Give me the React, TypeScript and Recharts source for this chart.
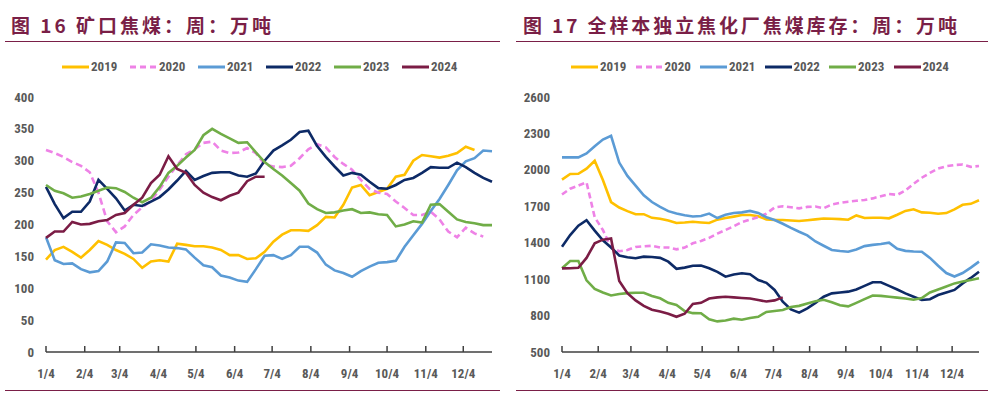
import React from 'react';
import { LineChart, Line, XAxis, YAxis } from 'recharts';

const years = ['2019', '2020', '2021', '2022', '2023', '2024'];
const colors = ['#FFC000', '#EE82E6', '#5B9BD5', '#0D2A66', '#70AD47', '#7B1C45'];
const monthTickDays = [0, 31, 59, 90, 120, 151, 181, 212, 243, 273, 304, 334];
const monthLabels = ['1/4', '2/4', '3/4', '4/4', '5/4', '6/4', '7/4', '8/4', '9/4', '10/4', '11/4', '12/4'];
const weekDays = [0, 7, 14, 21, 28, 35, 42, 49, 56, 63, 70, 77, 84, 91, 98, 105, 112, 119, 126, 133, 140, 147, 154, 161, 168, 175, 182, 189, 196, 203, 210, 217, 224, 231, 238, 245, 252, 259, 266, 273, 280, 287, 294, 301, 308, 315, 322, 329, 336, 343, 350, 357];

const leftTitle = '图 16 矿口焦煤：周：万吨';
const rightTitle = '图 17 全样本独立焦化厂焦煤库存：周：万吨';
const leftYTicks = [0, 50, 100, 150, 200, 250, 300, 350, 400];
const rightYTicks = [500, 800, 1100, 1400, 1700, 2000, 2300, 2600];

// 矿口焦煤 (万吨)
const mine2019 = [145,160,165,157,148,160,174,168,160,154,146,132,142,144,142,170,168,166,166,164,160,152,152,146,147,157,173,184,191,191,190,199,212,211,231,258,262,246,251,256,275,278,300,309,307,305,308,312,322,317];
const mine2020 = [317,312,306,298,292,282,250,205,188,197,215,227,237,255,275,293,310,318,328,330,316,312,313,320,312,294,291,290,292,304,318,326,321,306,295,286,270,256,250,248,236,226,215,215,220,208,189,180,195,186,181];
const mine2021 = [180,144,138,139,130,125,127,142,172,171,155,156,169,167,164,163,161,148,136,133,120,117,112,110,130,151,152,146,152,165,165,156,137,128,124,118,127,134,140,141,143,165,183,201,221,240,262,285,299,304,316,315];
const mine2022 = [259,232,210,220,220,236,270,256,241,222,231,229,236,243,255,269,284,270,276,281,282,282,277,275,280,300,316,324,333,345,347,323,306,291,277,281,278,267,257,256,262,270,273,281,290,289,289,297,290,281,273,267];
const mine2023 = [262,253,249,242,244,248,253,258,257,251,242,235,242,259,281,292,305,317,340,350,342,335,328,329,313,298,287,277,265,253,233,224,218,219,222,224,218,219,216,215,197,200,205,203,231,232,220,208,204,202,199,199];
const mine2024 = [179,189,189,204,200,201,205,207,215,218,231,242,265,278,307,287,281,262,250,243,238,245,250,268,275,275];

// 全样本独立焦化厂焦煤库存 (万吨)
const coke2019 = [1920,1966,1968,2010,2075,1916,1735,1690,1660,1635,1635,1605,1598,1583,1562,1566,1573,1567,1562,1590,1603,1615,1628,1628,1618,1592,1587,1587,1583,1579,1585,1592,1600,1597,1594,1589,1625,1603,1606,1606,1601,1630,1662,1675,1650,1647,1638,1644,1675,1712,1720,1750];
const coke2020 = [1797,1845,1870,1897,1610,1505,1360,1330,1340,1365,1370,1375,1360,1360,1345,1360,1395,1415,1440,1475,1505,1535,1570,1590,1610,1640,1690,1700,1692,1683,1695,1698,1684,1715,1728,1738,1745,1752,1765,1783,1801,1794,1830,1885,1935,1975,2010,2030,2040,2044,2025,2032];
const coke2021 = [2103,2103,2103,2135,2195,2250,2280,2060,1950,1870,1790,1735,1695,1660,1640,1626,1616,1620,1640,1603,1630,1645,1650,1662,1645,1610,1587,1556,1522,1490,1460,1410,1375,1340,1332,1326,1345,1372,1382,1389,1400,1350,1333,1328,1326,1275,1210,1150,1122,1150,1195,1244];
const coke2022 = [1367,1463,1540,1585,1500,1420,1360,1295,1280,1272,1285,1282,1275,1244,1185,1195,1210,1212,1190,1160,1120,1138,1148,1140,1093,1070,1011,914,850,824,860,905,955,983,990,997,1015,1045,1074,1074,1045,1015,983,955,928,935,969,990,1011,1065,1110,1161];
const coke2023 = [1189,1250,1250,1090,1020,990,966,978,985,988,988,962,942,905,887,838,820,819,770,752,760,775,766,780,790,830,838,846,870,880,900,918,930,910,885,876,905,935,965,962,955,948,940,930,945,990,1015,1040,1065,1080,1093,1107];
const coke2024 = [1189,1190,1194,1275,1395,1425,1435,1085,985,925,880,848,833,815,790,815,895,905,940,950,955,950,945,940,928,916,925,950];

const FONT = "'Liberation Sans Narrow', 'Roboto Condensed', Roboto, sans-serif";
const TITLE_FONT = "'Noto Sans CJK SC', sans-serif";
const MAROON = '#7A1F47';
const GREY = '#595959';

function buildRows(series: number[][]) {
  return weekDays.map((d, i) => {
    const row: Record<string, number | null> = { day: d };
    years.forEach((y, k) => {
      const v = series[k][i];
      row[y] = v === undefined ? null : v;
    });
    return row;
  });
}

const rowsLeft = buildRows([mine2019, mine2020, mine2021, mine2022, mine2023, mine2024]);
const rowsRight = buildRows([coke2019, coke2020, coke2021, coke2022, coke2023, coke2024]);

const XTick = (props: any) => {
  const { x, y, payload } = props;
  const idx = monthTickDays.indexOf(payload.value);
  return (
    <g>
      <line x1={x} x2={x} y1={y - 6} y2={y} stroke="#404040" strokeWidth={1.5} />
      <text x={x} y={y + 26} textAnchor="middle" fill={GREY} fontSize={13} fontWeight={700} fontFamily={FONT}>
        {idx >= 0 ? monthLabels[idx] : ''}
      </text>
    </g>
  );
};

function Legend({ left, pitch }: { left: number; pitch: number }) {
  return (
    <>
      {years.map((y, k) => (
        <div key={y} style={{ position: 'absolute', left: left + k * pitch, top: 60, height: 14, width: 60 }}>
          <svg width={27} height={14} style={{ position: 'absolute', left: 0, top: 0 }}>
            <line x1={0} x2={27} y1={7} y2={7} stroke={colors[k]} strokeWidth={3} strokeDasharray={y === '2020' ? '6 4' : undefined} />
          </svg>
          <span style={{ position: 'absolute', left: 29, top: -1, fontFamily: FONT, fontSize: 13, fontWeight: 700, color: GREY, lineHeight: '16px' }}>{y}</span>
        </div>
      ))}
    </>
  );
}

function Panel(props: {
  offsetX: number;
  rows: any[];
  domain: [number, number];
  yTicks: number[];
  yWidth: number;
  mLeft: number;
  mRight: number;
  dash: string;
}) {
  const { offsetX, rows, domain, yTicks, yWidth, mLeft, mRight, dash } = props;
  return (
    <div style={{ position: 'absolute', left: offsetX, top: 0 }}>
      <LineChart width={500} height={394} data={rows} margin={{ top: 97, right: mRight, bottom: 2, left: mLeft }}>
        <XAxis
          dataKey="day"
          type="number"
          domain={[0, 357]}
          ticks={monthTickDays}
          interval={0}
          height={40}
          tickSize={0}
          tickMargin={0}
          tickLine={false}
          axisLine={{ stroke: '#404040', strokeWidth: 1.5 }}
          tick={(p: any) => <XTick {...p} />}
        />
        <YAxis
          domain={domain}
          ticks={yTicks}
          interval={0}
          width={yWidth}
          axisLine={false}
          tickLine={false}
          tickSize={0}
          tickMargin={12}
          tick={{ fill: GREY, fontSize: 13, fontWeight: 700, fontFamily: FONT }}
        />
        {years.map((y, k) => (
          <Line
            key={y}
            type="linear"
            dataKey={y}
            stroke={colors[k]}
            strokeWidth={2.6}
            strokeDasharray={y === '2020' ? dash : undefined}
            dot={false}
            activeDot={false}
            connectNulls={false}
            isAnimationActive={false}
          />
        ))}
      </LineChart>
    </div>
  );
}

export default function App() {
  return (
    <div style={{ position: 'absolute', left: 0, top: 0, width: 1000, height: 394, background: '#fff', overflow: 'hidden' }}>
      <div style={{ position: 'absolute', left: 11, top: 14, fontFamily: TITLE_FONT, fontWeight: 700, fontSize: 19, lineHeight: '22px', letterSpacing: 3, color: MAROON, whiteSpace: 'pre' }}>
        {leftTitle}
      </div>
      <div style={{ position: 'absolute', left: 523, top: 14, fontFamily: TITLE_FONT, fontWeight: 700, fontSize: 19, lineHeight: '22px', letterSpacing: 2.9, color: MAROON, whiteSpace: 'pre' }}>
        {rightTitle}
      </div>
      <div style={{ position: 'absolute', left: 5, top: 41, width: 495, height: 0, borderTop: `1.5px solid ${MAROON}` }} />
      <div style={{ position: 'absolute', left: 516, top: 41, width: 472, height: 0, borderTop: `1.5px solid ${MAROON}` }} />
      <div style={{ position: 'absolute', left: 5, top: 390, width: 495, height: 0, borderTop: `1.5px solid ${MAROON}` }} />
      <div style={{ position: 'absolute', left: 516, top: 390, width: 472, height: 0, borderTop: `1.5px solid ${MAROON}` }} />

      <Panel offsetX={0} rows={rowsLeft} domain={[0, 400]} yTicks={leftYTicks} yWidth={40} mLeft={6} mRight={8} dash="7 4" />
      <Panel offsetX={500} rows={rowsRight} domain={[500, 2600]} yTicks={rightYTicks} yWidth={50} mLeft={12} mRight={21} dash="6 3.5" />

      <Legend left={62} pitch={68} />
      <Legend left={571} pitch={64.5} />
    </div>
  );
}
